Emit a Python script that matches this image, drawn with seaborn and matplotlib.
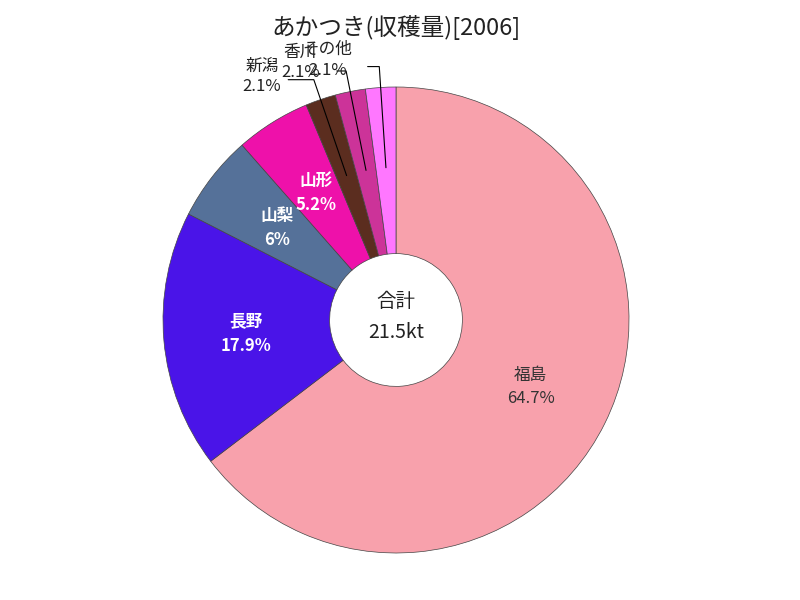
import numpy as np
import matplotlib
matplotlib.use("Agg")
import matplotlib.pyplot as plt
import seaborn as sns

# ---- data ----
categories = ["福島", "長野", "山梨", "山形", "新潟", "香川", "その他"]
shares = [64.7, 17.9, 6.0, 5.2, 2.1, 2.1, 2.1]
pct_labels = ["64.7%", "17.9%", "6%", "5.2%", "2.1%", "2.1%", "2.1%"]
colors = ["#F8A1AC", "#4A14E8", "#557199", "#EE11AA", "#5B2D1F", "#CC3399", "#FF77FF"]
title = "あかつき(収穫量)[2006]"
center_title = "合計"
center_value = "21.5kt"

sns.set_theme(style="white")
plt.rcParams["font.family"] = ["Noto Sans CJK JP", "DejaVu Sans"]

fig = plt.figure(figsize=(8, 6), dpi=100)
cx, cy, R = 396, 320, 233
ax = fig.add_axes([(cx - R) / 800, (600 - cy - R) / 600, 2 * R / 800, 2 * R / 600])

wedges, _ = ax.pie(shares, colors=colors, startangle=90, counterclock=False,
                   radius=1.0,
                   wedgeprops=dict(width=1 - 0.285, edgecolor="#444444", linewidth=0.5))
ax.set_xlim(-1, 1)
ax.set_ylim(-1, 1)
ax.set_aspect("equal")
ax.axis("off")

inside_style = {
    0: dict(color="#333333", fontweight="normal"),
    1: dict(color="white", fontweight="bold"),
    2: dict(color="white", fontweight="bold"),
    3: dict(color="white", fontweight="bold"),
}
label_r = 0.645
for i, w in enumerate(wedges):
    mid = np.deg2rad((w.theta1 + w.theta2) / 2)
    if i in inside_style:
        x, y = label_r * np.cos(mid), label_r * np.sin(mid)
        ax.text(x, y, f"{categories[i]}\n{pct_labels[i]}", ha="center", va="center",
                fontsize=12, linespacing=1.45, **inside_style[i])

# outside labels for small slices
outside_pos = {4: (-0.575, 1.045), 5: (-0.41, 1.105), 6: (-0.295, 1.115)}
hseg = {4: 0.11, 5: 0.04, 6: 0.05}
for i, (tx, ty) in outside_pos.items():
    w = wedges[i]
    mid = np.deg2rad((w.theta1 + w.theta2) / 2)
    p0 = (0.655 * np.cos(mid), 0.655 * np.sin(mid))
    p1 = (1.09 * np.cos(mid), 1.09 * np.sin(mid))
    p2 = (p1[0] - hseg[i], p1[1])
    ax.plot([p0[0], p1[0], p2[0]], [p0[1], p1[1], p2[1]], color="black", lw=0.8,
            clip_on=False)
    ax.text(tx, ty, f"{categories[i]}\n{pct_labels[i]}", ha="center", va="center",
            fontsize=12, color="#222222", linespacing=1.3, clip_on=False)

ax.text(0, 0.08, center_title, ha="center", va="center", fontsize=14, color="#222222")
ax.text(0, -0.055, center_value, ha="center", va="center", fontsize=14, color="#222222")

fig.text(396 / 800, 1 - 27 / 600, title, ha="center", va="center", fontsize=17,
         color="#222222")

fig.savefig("out.png", dpi=100)
